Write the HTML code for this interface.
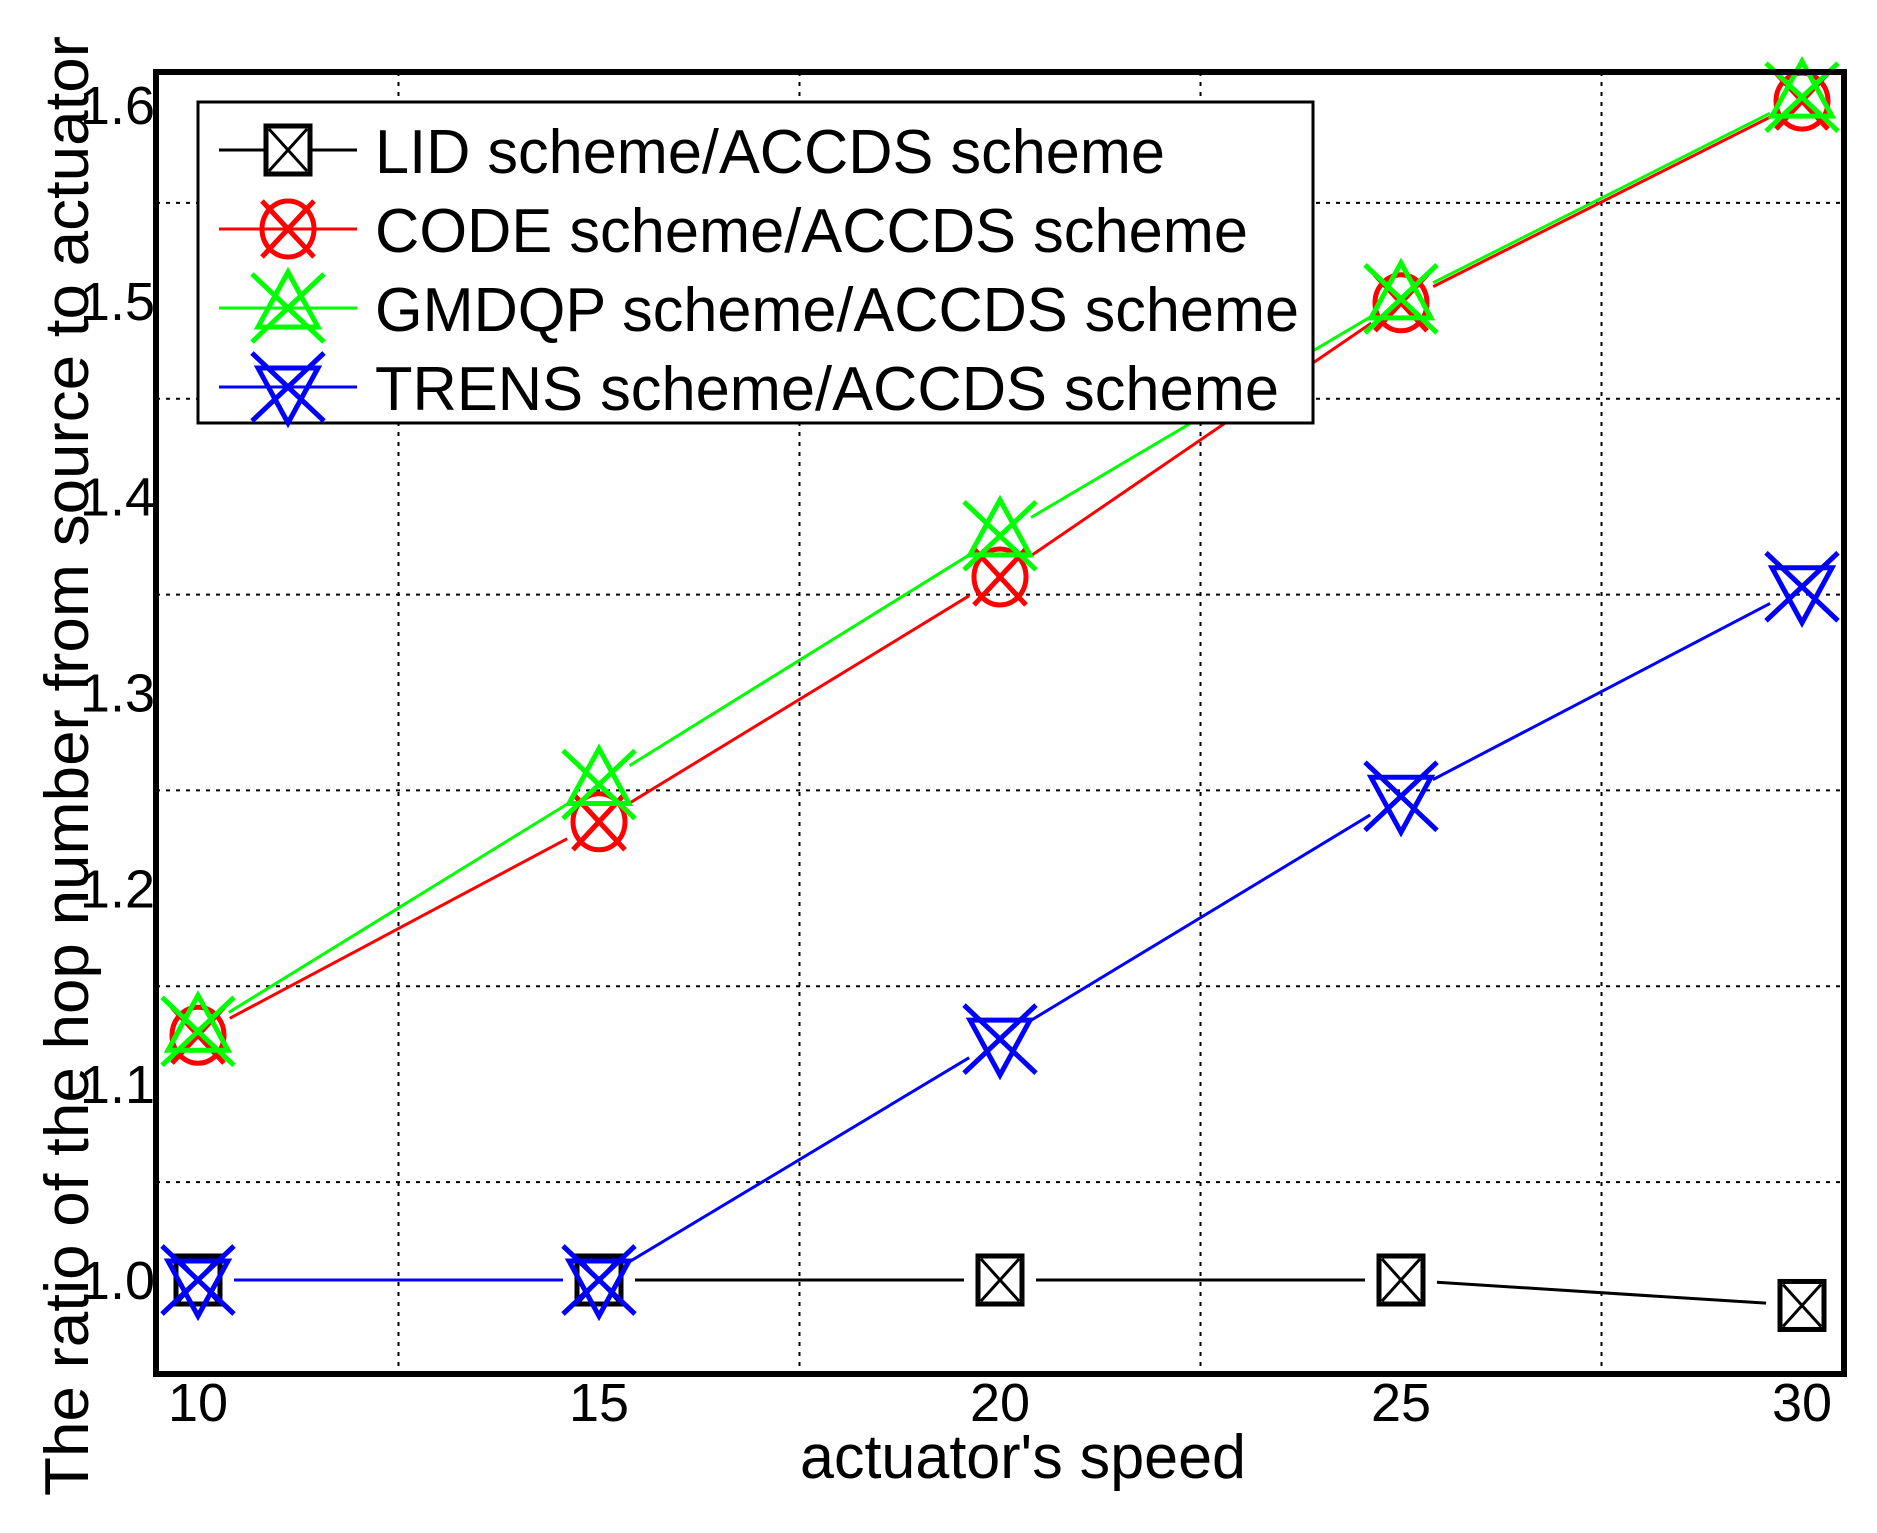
<!DOCTYPE html>
<html><head><meta charset="utf-8"><style>
html,body{margin:0;padding:0;background:#fff;}
svg{display:block;}
text{font-family:"Liberation Sans",Arial,sans-serif;fill:#000;}
</style></head><body>
<svg id="chart" width="1877" height="1533" viewBox="0 0 1877 1533" xmlns="http://www.w3.org/2000/svg">
<rect width="1877" height="1533" fill="#fff"/>
<g id="grid"></g>
<g id="series"></g>
<rect x="156" y="72" width="1688" height="1302" fill="none" stroke="#000" stroke-width="6"/>
<g id="ticks"></g>
<text x="1023" y="1478" font-size="62" text-anchor="middle" textLength="446" lengthAdjust="spacingAndGlyphs">actuator's speed</text>
<text transform="translate(88,766) rotate(-90)" font-size="62" text-anchor="middle" textLength="1460" lengthAdjust="spacingAndGlyphs">The ratio of the hop number from source to actuator</text>
<g id="legend"></g>
</svg>
<script>
const categories = [10, 15, 20, 25, 30];
const lidValues = [1.0, 1.0, 1.0, 1.0, 0.987];
const codeValues = [1.125, 1.234, 1.359, 1.499, 1.602];
const gmdqpValues = [1.127, 1.253, 1.380, 1.501, 1.604];
const trensValues = [1.0, 1.0, 1.123, 1.247, 1.354];
const xTickLabels = ["10", "15", "20", "25", "30"];
const yTickValues = [1.0, 1.1, 1.2, 1.3, 1.4, 1.5, 1.6];
const yTickLabels = ["1.0", "1.1", "1.2", "1.3", "1.4", "1.5", "1.6"];
const xGridValues = [12.5, 17.5, 22.5, 27.5];
const yGridValues = [1.05, 1.15, 1.25, 1.35, 1.45, 1.55];
const seriesNames = ["LID scheme/ACCDS scheme", "CODE scheme/ACCDS scheme", "GMDQP scheme/ACCDS scheme", "TRENS scheme/ACCDS scheme"];

const NS = "http://www.w3.org/2000/svg";
function xs(v){ return 198 + (v - 10) / 20 * (1802 - 198); }
function ys(v){ return 1280 - (v - 1.0) / 0.6 * (1280 - 105); }
function mk(tag, attrs, parent){
  const e = document.createElementNS(NS, tag);
  for (const k in attrs) e.setAttribute(k, attrs[k]);
  parent.appendChild(e);
  return e;
}
const grid = document.getElementById('grid');
xGridValues.forEach(v => {
  const l = mk('line', {x1: xs(v), x2: xs(v), y1: 72, y2: 1374, stroke: '#000', 'stroke-width': 2, 'stroke-dasharray': '4 6'}, grid);
  
  
});
yGridValues.forEach(v => {
  const l = mk('line', {x1: 156, x2: 1844, y1: ys(v), y2: ys(v), stroke: '#000', 'stroke-width': 2, 'stroke-dasharray': '4 6'}, grid);
  
  
});
const ticks = document.getElementById('ticks');
categories.forEach((c, i) => {
  const t = mk('text', {x: xs(c), y: 1421, 'font-size': 54, 'text-anchor': 'middle'}, ticks);
  t.textContent = xTickLabels[i];
  
  
});
yTickValues.forEach((v, i) => {
  const t = mk('text', {x: 155, y: ys(v) + 19, 'font-size': 54, 'text-anchor': 'end'}, ticks);
  t.textContent = yTickLabels[i];
  
  
});

function marker(type, cx, cy, color, parent){
  const g = mk('g', {stroke: color, 'stroke-width': 5, fill: 'none'}, parent);
  if (type === 'square'){
    mk('rect', {x: cx-22, y: cy-24, width: 44, height: 48, fill: '#fff', 'stroke-width': 5}, g);
    mk('path', {d: `M${cx-19} ${cy-21}L${cx+19} ${cy+21}M${cx+19} ${cy-21}L${cx-19} ${cy+21}`, 'stroke-width': 3}, g);
  } else if (type === 'circle'){
    mk('ellipse', {cx: cx, cy: cy, rx: 26, ry: 28}, g);
    mk('path', {d: `M${cx-26} ${cy-28}L${cx+26} ${cy+28}M${cx+26} ${cy-28}L${cx-26} ${cy+28}`}, g);
  } else if (type === 'up'){
    mk('path', {d: `M${cx} ${cy-36}L${cx+30} ${cy+19}L${cx-30} ${cy+19}Z`}, g);
    mk('path', {d: `M${cx-36} ${cy-34}L${cx+36} ${cy+34}M${cx+36} ${cy-34}L${cx-36} ${cy+34}`}, g);
  } else {
    mk('path', {d: `M${cx} ${cy+36}L${cx+30} ${cy-19}L${cx-30} ${cy-19}Z`}, g);
    mk('path', {d: `M${cx-36} ${cy-34}L${cx+36} ${cy+34}M${cx+36} ${cy-34}L${cx-36} ${cy+34}`}, g);
  }
  return g;
}
const seriesDefs = [
  {name: 'lid', values: lidValues, color: '#000', type: 'square'},
  {name: 'code', values: codeValues, color: '#ff0000', type: 'circle'},
  {name: 'gmdqp', values: gmdqpValues, color: '#00ff00', type: 'up'},
  {name: 'trens', values: trensValues, color: '#0000ff', type: 'down'}
];
const sg = document.getElementById('series');
seriesDefs.forEach(s => {
  const g = mk('g', {}, sg);
  
  
  const gap = 36;
  for (let i = 0; i < categories.length - 1; i++){
    const x1 = xs(categories[i]), y1 = ys(s.values[i]), x2 = xs(categories[i+1]), y2 = ys(s.values[i+1]);
    const d = Math.hypot(x2-x1, y2-y1), ux = (x2-x1)/d, uy = (y2-y1)/d;
    const l = mk('line', {x1: x1+ux*gap, y1: y1+uy*gap, x2: x2-ux*gap, y2: y2-uy*gap, stroke: s.color, 'stroke-width': 3}, g);
    
    
  }
  categories.forEach((c, i) => {
    const m = marker(s.type, xs(c), ys(s.values[i]), s.color, g);
    
    
  });
});
const lg = document.getElementById('legend');
const box = mk('rect', {x: 198, y: 102, width: 1115, height: 321, fill: '#fff', stroke: '#000', 'stroke-width': 3}, lg);


const rowY = [150, 229, 308, 387];
const textLens = [790, 873, 924, 904];
seriesDefs.forEach((s, i) => {
  const g = mk('g', {}, lg);
  
  
  mk('line', {x1: 219, x2: 357, y1: rowY[i], y2: rowY[i], stroke: s.color, 'stroke-width': 3}, g);
  marker(s.type, 288, rowY[i], s.color, g);
  const t = mk('text', {x: 375, y: rowY[i] + 23, 'font-size': 62, textLength: textLens[i], lengthAdjust: 'spacingAndGlyphs'}, g);
  t.textContent = seriesNames[i];
});
</script>
</body></html>
